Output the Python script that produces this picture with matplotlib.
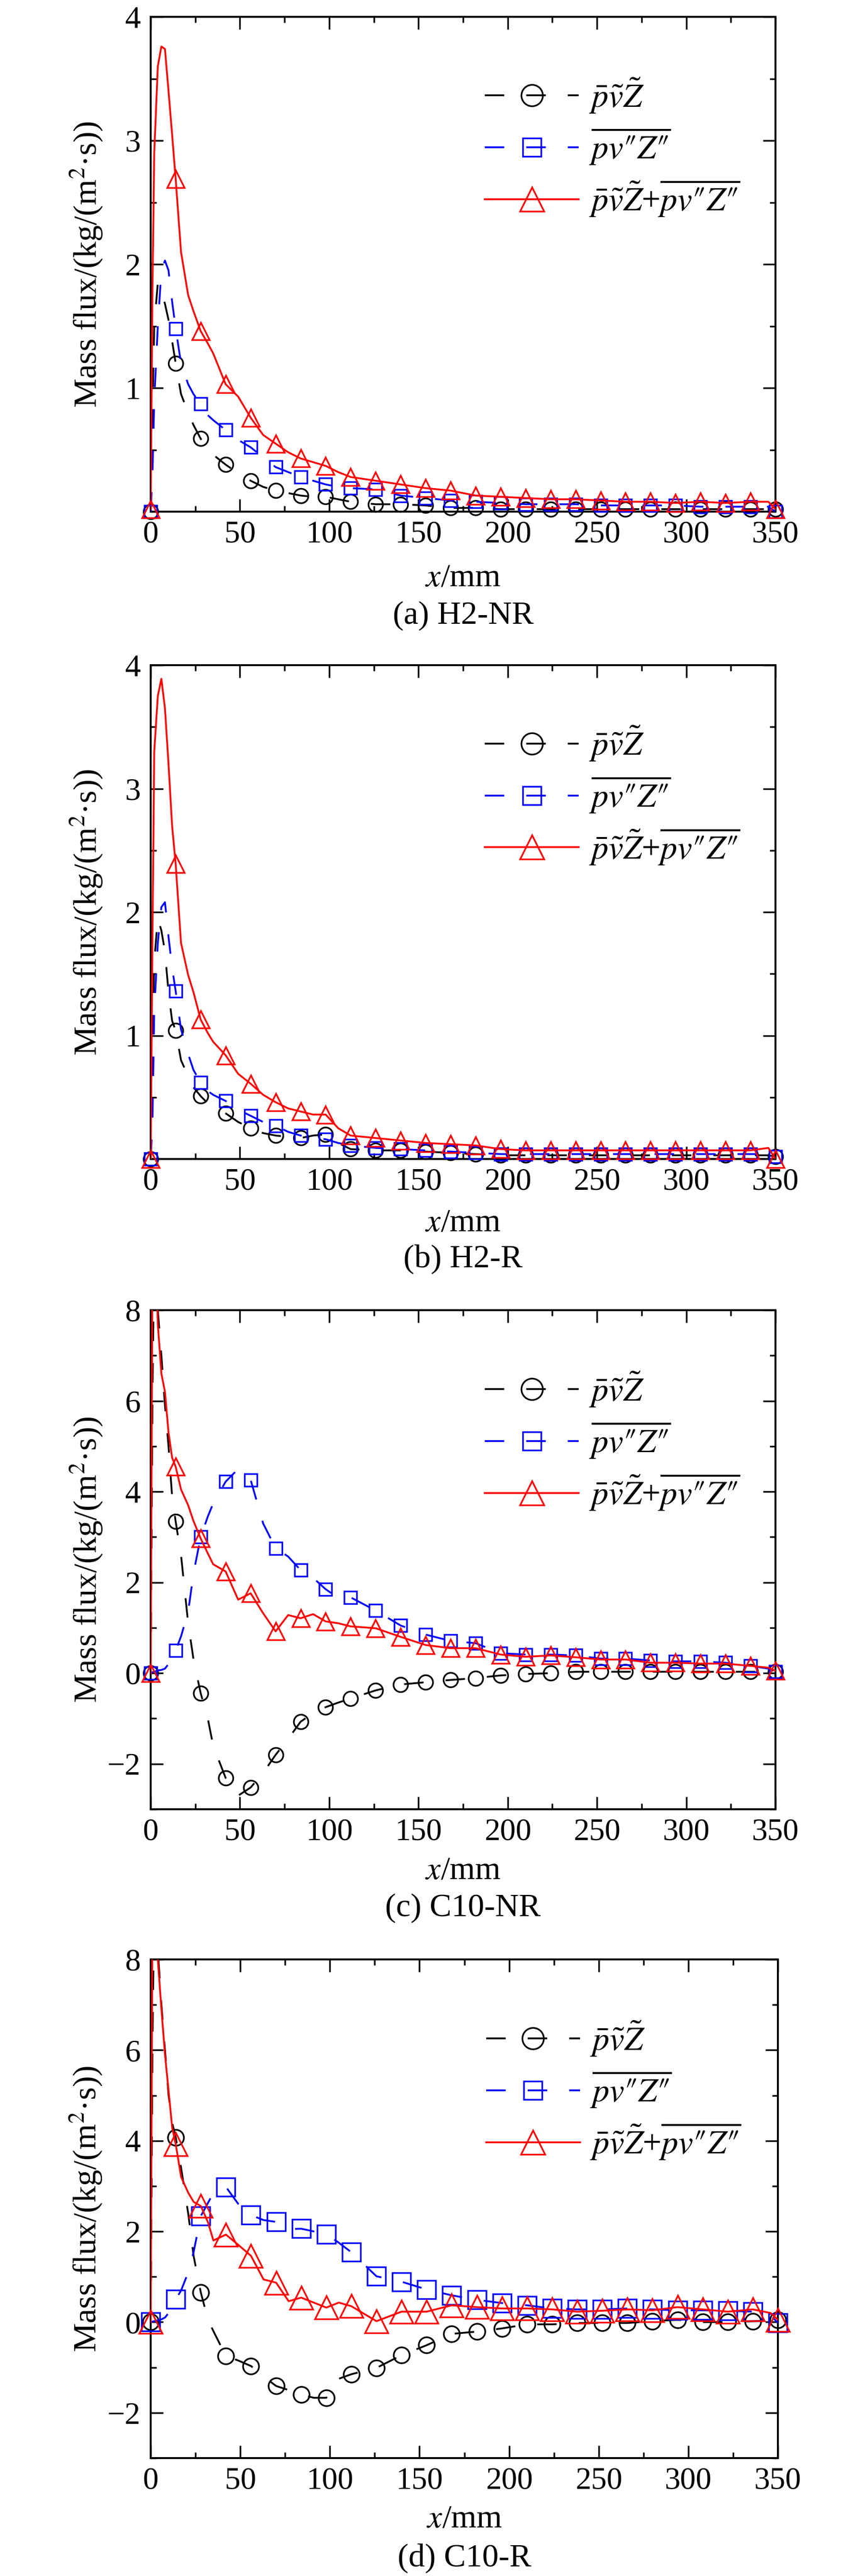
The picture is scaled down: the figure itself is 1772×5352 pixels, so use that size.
import matplotlib
matplotlib.use('Agg')
import matplotlib.pyplot as plt
from matplotlib.lines import Line2D
from matplotlib.ticker import MultipleLocator

# distancia x (mm), rejilla comun a los cuatro casos
X_MM = [0, 1, 2, 4, 6, 8, 10, 12, 14, 17, 21, 24, 28, 32, 35, 42, 49, 56, 63, 70,
        77, 84, 91, 98, 105, 112, 126, 140, 154, 168, 182, 196, 210, 224, 238,
        252, 266, 280, 294, 308, 322, 336, 346, 350]

# (a) H2-NR
NEG_A = [0, 0.8, 1.5, 1.85, 1.78, 1.68, 1.55, 1.38, 1.20, 0.95, 0.80, 0.70, 0.59,
         0.50, 0.46, 0.38, 0.31, 0.25, 0.20, 0.17, 0.15, 0.13, 0.12, 0.12, 0.10,
         0.08, 0.06, 0.06, 0.05, 0.03, 0.03, 0.02, 0.02, 0.02, 0.02, 0.02, 0.02,
         0.02, 0.02, 0.02, 0.02, 0.02, 0.02, 0.02]
TURB_A = [0, 0.3, 0.9, 1.5, 1.95, 2.03, 1.95, 1.70, 1.48, 1.20, 1.03, 0.95, 0.87,
          0.78, 0.74, 0.66, 0.58, 0.52, 0.44, 0.36, 0.32, 0.28, 0.25, 0.22, 0.20,
          0.19, 0.18, 0.13, 0.11, 0.09, 0.08, 0.07, 0.06, 0.06, 0.06, 0.05, 0.05,
          0.05, 0.05, 0.04, 0.04, 0.04, 0.04, 0.0]
SUM_A = [0.02, 1.8, 2.9, 3.6, 3.76, 3.74, 3.4, 3.05, 2.69, 2.10, 1.75, 1.62, 1.46,
         1.36, 1.28, 1.03, 0.93, 0.76, 0.62, 0.55, 0.48, 0.43, 0.40, 0.37, 0.32,
         0.28, 0.25, 0.22, 0.19, 0.17, 0.13, 0.12, 0.11, 0.10, 0.10, 0.09, 0.08,
         0.08, 0.07, 0.08, 0.07, 0.08, 0.08, 0.02]

# (b) H2-R
NEG_B = [0, 0.9, 1.6, 1.95, 1.85, 1.68, 1.35, 1.12, 1.04, 0.80, 0.67, 0.58, 0.51,
         0.45, 0.42, 0.37, 0.30, 0.25, 0.21, 0.19, 0.18, 0.17, 0.19, 0.20, 0.13,
         0.08, 0.07, 0.07, 0.06, 0.05, 0.04, 0.03, 0.03, 0.03, 0.03, 0.03, 0.03,
         0.03, 0.03, 0.03, 0.03, 0.03, 0.03, 0.02]
TURB_B = [0, 0.3, 1.2, 1.75, 2.04, 2.08, 1.80, 1.55, 1.36, 1.05, 0.85, 0.72, 0.62,
          0.55, 0.52, 0.47, 0.40, 0.35, 0.30, 0.27, 0.22, 0.19, 0.17, 0.16, 0.13,
          0.11, 0.09, 0.08, 0.07, 0.06, 0.05, 0.04, 0.04, 0.04, 0.04, 0.04, 0.04,
          0.04, 0.04, 0.04, 0.04, 0.04, 0.04, 0.02]
SUM_B = [0, 1.8, 3.3, 3.75, 3.89, 3.65, 3.2, 2.7, 2.39, 1.75, 1.49, 1.35, 1.13,
         1.02, 0.95, 0.84, 0.69, 0.61, 0.52, 0.46, 0.41, 0.385, 0.36, 0.36, 0.25,
         0.19, 0.17, 0.15, 0.13, 0.12, 0.11, 0.08, 0.07, 0.07, 0.07, 0.07, 0.07,
         0.07, 0.07, 0.07, 0.07, 0.07, 0.09, 0.0]

# (c) C10-NR
NEG_C = [0, 6.0, 9.5, 8.0, 7.0, 5.9, 5.0, 3.9, 3.34, 2.6, 1.1, 0.3, -0.44, -1.0,
         -1.6, -2.31, -2.7, -2.52, -2.2, -1.80, -1.45, -1.07, -0.88, -0.75, -0.65,
         -0.56, -0.38, -0.25, -0.20, -0.15, -0.11, -0.05, -0.02, 0.0, 0.03, 0.03,
         0.03, 0.03, 0.03, 0.03, 0.03, 0.03, 0.03, 0.03]
TURB_C = [0, 0.02, 0.03, 0.06, 0.07, 0.1, 0.2, 0.35, 0.50, 0.81, 1.35, 2.2, 3.0,
          3.45, 3.74, 4.22, 4.50, 4.26, 3.3, 2.75, 2.57, 2.27, 2.10, 1.85, 1.66,
          1.67, 1.38, 1.05, 0.85, 0.71, 0.66, 0.44, 0.41, 0.41, 0.39, 0.32, 0.32,
          0.28, 0.26, 0.26, 0.23, 0.16, 0.10, 0.03]
SUM_C = [0, 9.0, 10.5, 7.7, 6.6, 6.2, 5.3, 4.75, 4.55, 4.05, 3.7, 3.35, 2.97,
         2.64, 2.40, 2.24, 1.62, 1.76, 1.32, 0.92, 1.28, 1.21, 1.30, 1.14, 1.10,
         1.03, 0.99, 0.80, 0.62, 0.55, 0.55, 0.41, 0.36, 0.39, 0.35, 0.30, 0.30,
         0.23, 0.23, 0.21, 0.21, 0.16, 0.12, 0.05]

# (d) C10-R
NEG_D = [0, 6.0, 9.5, 8.2, 7.0, 6.0, 5.0, 4.4, 4.07, 3.4, 2.38, 1.45, 0.65, 0.05,
         -0.2, -0.75, -0.85, -0.97, -1.2, -1.41, -1.5, -1.60, -1.67, -1.67, -1.25,
         -1.15, -1.01, -0.73, -0.51, -0.26, -0.21, -0.14, -0.05, -0.05, -0.02,
         -0.02, -0.02, 0.02, 0.05, 0.0, 0.0, 0.02, 0.03, 0.05]
TURB_D = [0, 0.01, 0.02, 0.04, 0.06, 0.1, 0.2, 0.35, 0.50, 0.70, 1.1, 1.55, 2.34,
          2.63, 2.85, 2.98, 2.6, 2.36, 2.25, 2.21, 2.05, 2.06, 2.0, 1.94, 1.75,
          1.54, 1.01, 0.89, 0.72, 0.59, 0.49, 0.42, 0.37, 0.30, 0.28, 0.28, 0.30,
          0.28, 0.26, 0.26, 0.25, 0.23, 0.15, -0.02]
SUM_D = [0, 9.0, 10.5, 8.0, 6.9, 5.9, 5.1, 4.29, 3.92, 3.2, 2.85, 2.65, 2.56,
         2.2, 1.80, 1.93, 1.70, 1.46, 0.94, 0.87, 0.46, 0.54, 0.43, 0.32, 0.43,
         0.35, 0.02, 0.23, 0.23, 0.37, 0.33, 0.30, 0.30, 0.28, 0.23, 0.25, 0.28,
         0.26, 0.33, 0.28, 0.23, 0.28, 0.20, 0.05]

CAPTIONS = ['(a) H2-NR', '(b) H2-R', '(c) C10-NR', '(d) C10-R']
LABELS = ['$\\bar{p}\\tilde{v}\\tilde{Z}$',
          '$\\overline{pv\u2033Z\u2033}$',
          '$\\bar{p}\\tilde{v}\\tilde{Z}$+$\\overline{pv\u2033Z\u2033}$']

NEGRO, AZUL, ROJO = '#000000', '#0000ff', '#ff0000'
DASH = (0, (10.8, 12.2))

plt.rcParams['font.family'] = ['Liberation Serif', 'DejaVu Serif']
plt.rcParams['mathtext.fontset'] = 'stix'
plt.rcParams['axes.linewidth'] = 2.9

W, H = 1772, 5352
fig = plt.figure(figsize=(W / 100, H / 100), dpi=100)

# cajas de ejes en pixeles (izq, arriba, der, abajo)
CAJAS = [(313, 35, 1611, 1063), (313, 1382, 1611, 2408),
         (313, 2722, 1611, 3759), (313, 4071, 1616, 5107)]
# distancia (px) bajo el eje para la etiqueta x y el rotulo
OFFS = [(138, 216), (133, 208), (128, 205), (127, 208)]

paneles = [
    (NEG_A, TURB_A, SUM_A, (0, 4)),
    (NEG_B, TURB_B, SUM_B, (0, 4)),
    (NEG_C, TURB_C, SUM_C, (-3, 8)),
    (NEG_D, TURB_D, SUM_D, (-3, 8)),
]
# tamanos de marcador (circulo, cuadrado, triangulo)
MARCAS = [(21.6, 19.4, 26.6), (21.6, 19.4, 26.6), (21.6, 19.4, 26.6), (23.8, 27.4, 35)]

marcas_idx = [i for i, x in enumerate(X_MM) if x % 14 == 0]

for k, (neg, turb, suma, ylim) in enumerate(paneles):
    l, t, r, b = CAJAS[k]
    ax = fig.add_axes([l / W, 1 - b / H, (r - l) / W, (b - t) / H])
    ms_o, ms_s, ms_t = MARCAS[k]
    alto = b - t

    series = [(neg, NEGRO, DASH, 'o', ms_o, 3), (turb, AZUL, DASH, 's', ms_s, 4),
              (suma, ROJO, '-', '^', ms_t, 5)]
    for ys, color, estilo, marca, ms, z in series:
        ax.plot(X_MM, ys, color=color, lw=2.7, linestyle=estilo, zorder=z)
        ax.plot(X_MM, ys, color=color, linestyle='none', marker=marca, ms=ms,
                mfc='none', mew=2.5, markevery=marcas_idx, clip_on=False, zorder=z)

    ax.set_xlim(0, 350)
    ax.set_ylim(*ylim)
    ax.xaxis.set_major_locator(MultipleLocator(50))
    ax.xaxis.set_minor_locator(MultipleLocator(25))
    if ylim[1] == 4:
        ax.set_yticks([1, 2, 3, 4])
        ax.yaxis.set_minor_locator(MultipleLocator(0.5))
    else:
        ax.set_yticks([-2, 0, 2, 4, 6, 8])
        ax.yaxis.set_minor_locator(MultipleLocator(1))
    ax.tick_params(which='both', direction='in', top=True, right=True, width=2.5)
    ax.tick_params(which='major', length=19, labelsize=47)
    ax.tick_params(which='minor', length=8.5)
    ax.tick_params(axis='x', which='major', pad=13)
    ax.tick_params(axis='y', which='major', pad=15)

    ax.set_ylabel('Mass flux/(kg/(m$^2$·s))', fontsize=49)
    ax.yaxis.set_label_coords(-0.103, 0.5)
    ax.yaxis.label.set_va('center')
    ax.set_xlabel('$x$/mm', fontsize=49)
    ax.xaxis.set_label_coords(0.5, -OFFS[k][0] / alto)
    ax.xaxis.label.set_va('center')
    ax.text(0.5, -OFFS[k][1] / alto, CAPTIONS[k], transform=ax.transAxes,
            ha='center', va='center', fontsize=49)

    manejadores = [
        Line2D([0], [0], color=NEGRO, lw=2.7, linestyle=DASH, marker='o', ms=32,
               mfc='none', mew=2.5),
        Line2D([0], [0], color=AZUL, lw=2.7, linestyle=DASH, marker='s', ms=27,
               mfc='none', mew=2.5),
        Line2D([0], [0], color=ROJO, lw=2.7, marker='^', ms=36, mfc='none', mew=2.5),
    ]
    ax.legend(manejadores, LABELS, loc='upper left', bbox_to_anchor=(0.535, 0.88),
              frameon=False, fontsize=50, handlelength=2.8, handletextpad=0.3,
              labelspacing=0.35, borderpad=0, borderaxespad=0)

fig.savefig('out.png', dpi=100)
